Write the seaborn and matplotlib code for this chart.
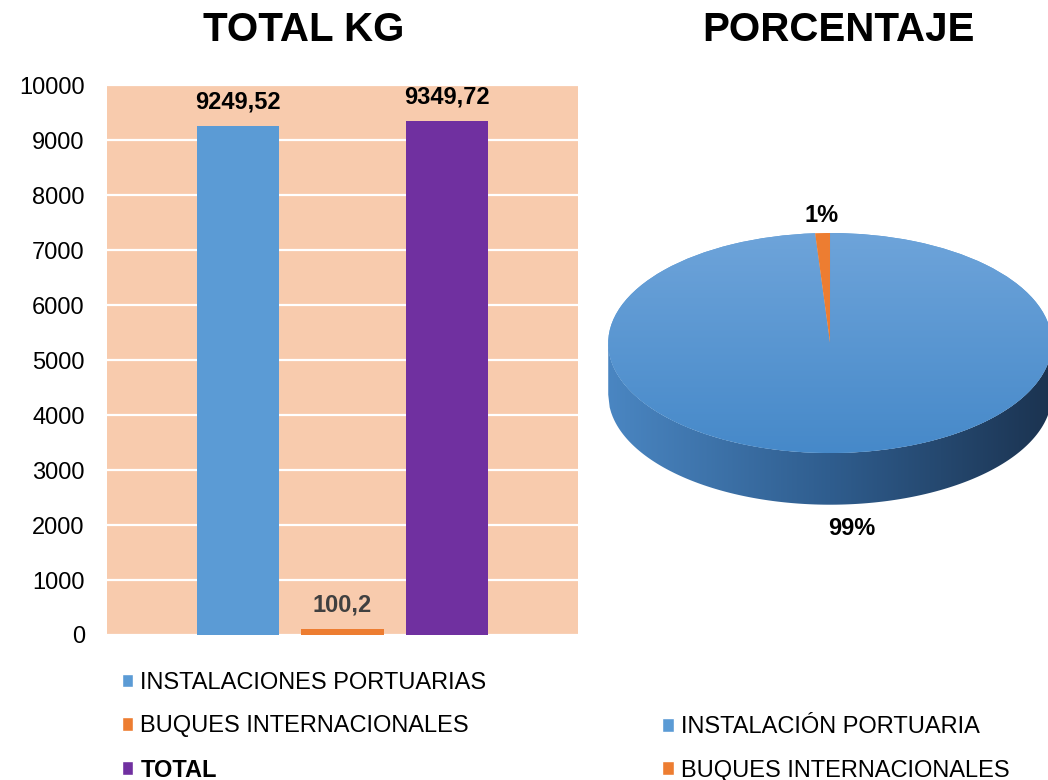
import numpy as np
import pandas as pd
import seaborn as sns
import matplotlib.pyplot as plt
from matplotlib.patches import Patch, Polygon
from matplotlib.colors import LinearSegmentedColormap

# datos
categorias = ["INSTALACIONES PORTUARIAS", "BUQUES INTERNACIONALES", "TOTAL"]
total_kg = [9249.52, 100.2, 9349.72]
colores_barras = ["#5b9bd5", "#ed7d31", "#7030a0"]
yticks = list(range(0, 10001, 1000))

pie_labels = ["INSTALACIÓN PORTUARIA", "BUQUES INTERNACIONALES"]
pie_kg = [9249.52, 100.2]
colores_pie = ["#5b9bd5", "#ed7d31"]

sns.set_style("white")
plt.rcParams['font.family'] = ['Liberation Sans', 'DejaVu Sans']
plt.rcParams['text.color'] = 'black'
plt.rcParams['ytick.color'] = 'black'

fig = plt.figure(figsize=(10.48, 7.8), dpi=100)

# --- barras ---
ax = fig.add_axes([0.1021, 0.1859, 0.4494, 0.7051])
df = pd.DataFrame({"cat": categorias, "kg": total_kg})
sns.barplot(data=df, x="cat", y="kg", hue="cat", palette=colores_barras,
            saturation=1, width=0.785, linewidth=0, legend=False, ax=ax, zorder=3)
ax.set_facecolor("#f8cbad")
ax.set_xlim(-1.25, 3.25)
ax.set_ylim(0, 10000)
ax.set_yticks(yticks)
ax.set_yticklabels([str(t) for t in yticks], fontsize=17)
ax.set_xticks([])
ax.set_xlabel("")
ax.set_ylabel("")
ax.grid(axis="y", color="white", linewidth=1.6, zorder=1)
ax.set_axisbelow(True)
ax.tick_params(axis="y", length=0, pad=16)
for s in ax.spines.values():
    s.set_visible(False)

for cont, v in zip(ax.containers, total_kg):
    col = "#404040" if v < 1000 else "black"
    ax.bar_label(cont, labels=[str(v).replace(".", ",")], padding=9,
                 fontsize=17, fontweight="bold", color=col)

fig.text(0.29, 0.962, "TOTAL KG", ha="center", va="center",
         fontsize=29, fontweight="bold")

# --- pastel 3D ---
pax = fig.add_axes([0.5592, 0.2923, 0.4656, 0.4654])
depth = 0.47
xs = np.linspace(-1, 1, 300)
upper = -np.sqrt(1 - xs ** 2)
side_pts = np.column_stack([np.r_[xs, xs[::-1]], np.r_[upper, (upper - depth)[::-1]]])
side = Polygon(side_pts, closed=True, facecolor="none", edgecolor="none")
pax.add_patch(side)
cmap_side = LinearSegmentedColormap.from_list("side", ["#4a86c2", "#2f5d8e", "#1b3350"])
grad = np.linspace(0, 1, 256).reshape(1, -1)
im = pax.imshow(grad, cmap=cmap_side, extent=(-1, 1, -1 - depth, 0),
                aspect="auto", zorder=1)
im.set_clip_path(side)

wedges, _ = pax.pie(pie_kg, colors=colores_pie, startangle=90, counterclock=False,
                    radius=1, wedgeprops=dict(linewidth=0, zorder=2))
cmap_top = LinearSegmentedColormap.from_list("top", ["#6ea4da", "#4689c9"])
vgrad = np.linspace(0, 1, 256).reshape(-1, 1)
im2 = pax.imshow(vgrad, cmap=cmap_top, extent=(-1, 1, -1, 1), aspect="auto", zorder=2.5)
im2.set_clip_path(wedges[0])
wedges[1].set_zorder(3)

pax.set_aspect("auto")
pax.set_xlim(-1.1, 1.1)
pax.set_ylim(-1.9, 1.4)
pax.axis("off")

tot = sum(pie_kg)
for w, v in zip(wedges, pie_kg):
    ang = np.deg2rad((w.theta1 + w.theta2) / 2)
    r = 1.16
    xx, yy = r * np.cos(ang), r * np.sin(ang)
    if yy < 0:
        xx, yy = 0.1, -1.22 - depth
    pax.text(xx, yy, f"{round(v / tot * 100)}%", ha="center", va="center",
             fontsize=17, fontweight="bold")

fig.text(0.80, 0.962, "PORCENTAJE", ha="center", va="center",
         fontsize=29, fontweight="bold")

# --- leyendas ---
h_bar = [Patch(facecolor=c) for c in colores_barras]
leg1 = fig.legend(h_bar, categorias, loc="lower left", bbox_to_anchor=(0.116, -0.002),
                  frameon=False, fontsize=17, handlelength=0.5, handleheight=0.5,
                  handletextpad=0.3, labelspacing=0.9, borderpad=0, borderaxespad=0)
leg1.get_texts()[2].set_fontweight("bold")

h_pie = [Patch(facecolor=c) for c in colores_pie]
fig.legend(h_pie, pie_labels, loc="lower left", bbox_to_anchor=(0.632, -0.002),
           frameon=False, fontsize=17, handlelength=0.5, handleheight=0.5,
           handletextpad=0.3, labelspacing=0.9, borderpad=0, borderaxespad=0)

fig.savefig("out.png", dpi=100)
